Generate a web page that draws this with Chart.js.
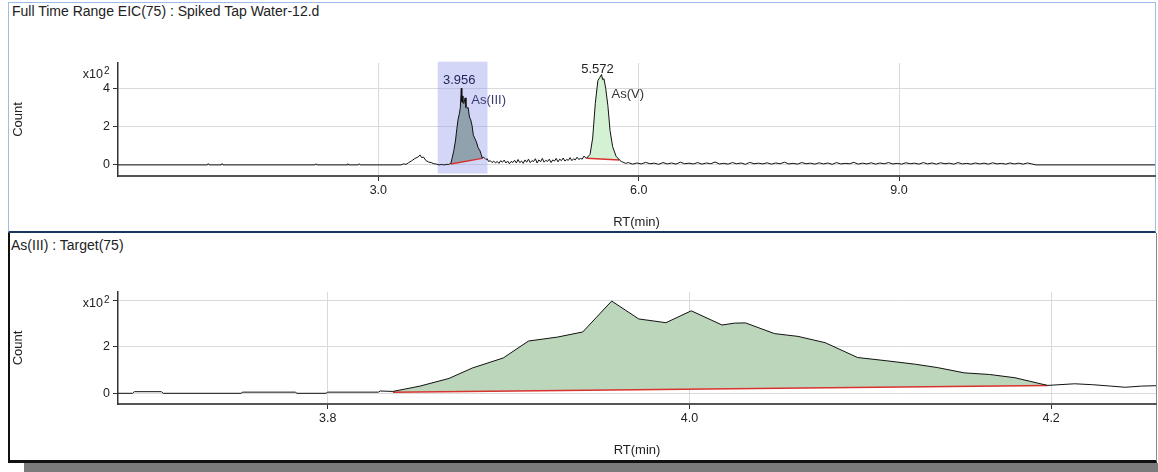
<!DOCTYPE html>
<html>
<head>
<meta charset="utf-8">
<title>EIC(75) Spiked Tap Water-12</title>
<script src="https://cdn.jsdelivr.net/npm/chart.js@4.4.1/dist/chart.umd.min.js"></script>
<style>
  html, body { margin: 0; padding: 0; background: #fff; }
  body { width: 1158px; height: 472px; position: relative; overflow: hidden; font-family: "Liberation Sans", Arial, sans-serif; }
  .panel { position: absolute; box-sizing: border-box; background: #fff; }
  #topPanel { left: 8px; top: 2px; width: 1148px; height: 231px; border: 1px solid #9dbde6; border-bottom: 2px solid #17375e; }
  #botPanel { left: 8px; top: 233px; width: 1149px; height: 230px; border-left: 2px solid #111; border-right: 1px solid #8a8a8a; border-bottom: 3px solid #111; }
  #shadow { position: absolute; left: 24px; top: 463px; width: 1134px; height: 9px; background: #7b7b7b; }
  .ptitle { position: absolute; font-size: 14px; color: #222; white-space: nowrap; }
  canvas { position: absolute; left: 0; }
</style>
</head>
<body>
<div class="panel" id="topPanel"></div>
<div class="panel" id="botPanel"></div>
<div id="shadow"></div>
<div class="ptitle" style="left:12px; top:3px;">Full Time Range EIC(75) : Spiked Tap Water-12.d</div>
<div class="ptitle" style="left:11px; top:237px;">As(III) : Target(75)</div>
<canvas id="topChart" width="1158" height="232" style="top:0px"></canvas>
<canvas id="botChart" width="1158" height="226" style="top:234px"></canvas>
<script>
const FONT = '"Liberation Sans", Arial, sans-serif';

// ---- upper plot: full time range EIC(75), counts in units of 10^2 ----
const topTrace = [
  [0, 0], [1.03, 0], [1.04, 0.07], [1.05, 0], [1.19, 0], [1.2, 0.07], [1.21, 0],
  [2.27, 0], [2.28, 0.06], [2.29, 0], [2.64, 0], [2.65, 0.06], [2.66, 0],
  [2.77, 0], [2.78, 0.06], [2.79, 0], [3.26, 0],
  [3.29, 0.05], [3.32, 0.03], [3.35, 0.12], [3.38, 0.2], [3.42, 0.33], [3.46, 0.42],
  [3.48, 0.52], [3.5, 0.38], [3.52, 0.41], [3.55, 0.22], [3.58, 0.15], [3.61, 0.12],
  [3.64, 0.06], [3.67, 0.04], [3.7, 0], [3.73, 0.02], [3.76, 0], [3.79, 0.03], [3.81, 0.02],
  // As(III)
  [3.836, 0.08], [3.85, 0.35], [3.87, 0.75], [3.89, 1.3], [3.905, 1.9], [3.92, 2.4],
  [3.935, 2.7], [3.945, 3.0], [3.956, 4.0], [3.962, 3.3], [3.968, 3.6], [3.975, 3.25],
  [3.985, 3.2], [4.0, 3.5], [4.01, 3.0], [4.02, 2.95], [4.035, 3.0], [4.05, 2.5],
  [4.065, 2.35], [4.08, 2.05], [4.095, 1.55], [4.11, 1.4], [4.13, 1.2], [4.15, 0.9],
  [4.17, 0.75], [4.185, 0.55], [4.198, 0.34], [4.21, 0.42], [4.225, 0.35], [4.24, 0.28],
  [4.255, 0.32], [4.27, 0.18], [4.29, 0.22], [4.31, 0.12], [4.33, 0.2], [4.35, 0.1],
  [4.37, 0.18], [4.39, 0.08], [4.41, 0.22], [4.43, 0.14], [4.45, 0.25], [4.47, 0.1],
  [4.49, 0.2], [4.51, 0.06], [4.53, 0.18], [4.55, 0.12], [4.57, 0.24], [4.59, 0.1],
  [4.61, 0.28], [4.63, 0.12], [4.65, 0.2], [4.67, 0.08], [4.69, 0.26], [4.71, 0.14],
  [4.73, 0.3], [4.75, 0.12], [4.77, 0.22], [4.79, 0.18], [4.81, 0.32], [4.83, 0.1],
  [4.85, 0.26], [4.87, 0.16], [4.89, 0.34], [4.91, 0.14], [4.93, 0.24], [4.95, 0.18],
  [4.97, 0.3], [4.99, 0.12], [5.01, 0.26], [5.03, 0.2], [5.05, 0.34], [5.07, 0.16],
  [5.09, 0.3], [5.11, 0.22], [5.13, 0.36], [5.15, 0.2], [5.17, 0.28], [5.19, 0.24],
  [5.21, 0.38], [5.23, 0.22], [5.25, 0.32], [5.27, 0.26], [5.29, 0.4], [5.31, 0.28],
  [5.33, 0.34], [5.35, 0.3], [5.37, 0.46], [5.39, 0.36],
  // As(V)
  [5.4, 0.35], [5.44, 0.55], [5.47, 1.4], [5.5, 3.2], [5.53, 4.4], [5.55, 4.55],
  [5.572, 4.72], [5.585, 4.45], [5.6, 4.5], [5.62, 4.0], [5.645, 3.1], [5.67, 1.8],
  [5.7, 0.95], [5.74, 0.45], [5.78, 0.25], [5.8, 0.18], [5.82, 0.14], [5.85, 0.08],
  [5.88, 0.12], [5.93, 0.04], [5.98, 0.1], [6.03, 0.05], [6.08, 0.13], [6.13, 0.06],
  [6.18, 0.09], [6.23, 0.03], [6.28, 0.12], [6.33, 0.05], [6.38, 0.1], [6.43, 0.04],
  [6.48, 0.14], [6.53, 0.06], [6.58, 0.09], [6.63, 0.05], [6.68, 0.12], [6.73, 0.04],
  [6.78, 0.1], [6.83, 0.06], [6.88, 0.15], [6.93, 0.05], [6.98, 0.08], [7.03, 0.04],
  [7.08, 0.12], [7.13, 0.06], [7.18, 0.1], [7.23, 0.03], [7.28, 0.13], [7.33, 0.06],
  [7.38, 0.09], [7.43, 0.05], [7.48, 0.11], [7.53, 0.04], [7.58, 0.1], [7.63, 0.06],
  [7.68, 0.14], [7.73, 0.05], [7.78, 0.08], [7.83, 0.04], [7.88, 0.12], [7.93, 0.06],
  [7.98, 0.09], [8.03, 0.04], [8.08, 0.11], [8.13, 0.05], [8.18, 0.1], [8.23, 0.03],
  [8.28, 0.12], [8.33, 0.05], [8.38, 0.08], [8.43, 0.06], [8.48, 0.13], [8.53, 0.04],
  [8.58, 0.09], [8.63, 0.05], [8.68, 0.11], [8.73, 0.04], [8.78, 0.1], [8.83, 0.06],
  [8.88, 0.12], [8.93, 0.05], [8.98, 0.08], [9.03, 0.04], [9.08, 0.11], [9.13, 0.06],
  [9.18, 0.09], [9.23, 0.04], [9.28, 0.12], [9.33, 0.05], [9.38, 0.1], [9.43, 0.04],
  [9.48, 0.11], [9.53, 0.06], [9.58, 0.09], [9.63, 0.04], [9.68, 0.12], [9.73, 0.05],
  [9.78, 0.08], [9.83, 0.04], [9.88, 0.1], [9.93, 0.05], [9.98, 0.09], [10.03, 0.04],
  [10.08, 0.11], [10.13, 0.05], [10.18, 0.08], [10.23, 0.04], [10.28, 0.1], [10.33, 0.05],
  [10.38, 0.09], [10.43, 0.04], [10.48, 0.1], [10.53, 0.05], [10.58, 0], [11.95, 0]
];
const topXRange = [0, 11.95];
const topYRange = [-0.58, 5.32];
const topXTicks = [3.0, 6.0, 9.0];
const topYTicks = [0, 2, 4];
const asIIIBaseline = [[3.836, 0.05], [4.198, 0.34]];
const asVBaseline = [[5.4, 0.35], [5.78, 0.25]];
const zoomWindow = [3.684, 4.258];      // RT range shown in the lower plot
const zoomWindowCounts = [-0.45, 5.39];
const peakLabels = [
  { rt: 3.956, count: 4.0, text: '3.956' },
  { rt: 3.956, count: 4.0, text: 'As(III)' },
  { rt: 5.572, count: 4.72, text: '5.572' },
  { rt: 5.572, count: 4.72, text: 'As(V)' }
];

// ---- lower plot: As(III) target(75) ----
const botTrace = [
  [3.684, 0], [3.692, 0], [3.693, 0.07], [3.708, 0.07], [3.709, 0], [3.752, 0],
  [3.753, 0.05], [3.782, 0.05], [3.783, 0], [3.799, 0], [3.8, 0.05], [3.828, 0.05],
  [3.829, 0.1], [3.836, 0.08], [3.851, 0.31], [3.867, 0.64], [3.88, 1.09], [3.897, 1.52],
  [3.911, 2.25], [3.927, 2.42], [3.941, 2.64], [3.957, 3.97], [3.972, 3.2], [3.987, 3.04],
  [4.001, 3.55], [4.018, 2.94], [4.025, 3.02], [4.031, 3.03], [4.047, 2.57], [4.06, 2.45],
  [4.075, 2.18], [4.093, 1.54], [4.109, 1.4], [4.125, 1.25], [4.137, 1.11], [4.152, 0.88],
  [4.166, 0.81], [4.18, 0.67], [4.198, 0.34], [4.213, 0.41], [4.223, 0.37], [4.233, 0.31],
  [4.241, 0.26], [4.25, 0.31], [4.259, 0.33]
];
const botXRange = [3.684, 4.258];
const botYRange = [-0.46, 4.36];
const botXTicks = [3.8, 4.0, 4.2];
const botYTicks = [0, 2, 4];
const botBaseline = [[3.836, 0.05], [4.198, 0.34]];

// label placement (px offsets from the apex)
const peakLabelStyle = [
  { dx: -2, dy: -8, align: 'center', color: '#1c2457' },
  { dx: 10, dy: 12, align: 'left', color: '#3a3a72' },
  { dx: -4, dy: -5, align: 'center', color: '#222' },
  { dx: 10, dy: 20, align: 'left', color: '#333' }
];

const toPts = (arr) => arr.map(([x, y]) => ({ x, y }));
const within = (arr, lo, hi) => arr.filter(([x]) => x >= lo && x <= hi);

const lineDs = (data, color, width) => ({
  data: toPts(data), borderColor: color, borderWidth: width,
  pointRadius: 0, tension: 0, fill: false
});
const fillDs = (data, target, color) => ({
  data: toPts(data), borderWidth: 0, borderColor: 'rgba(0,0,0,0)',
  backgroundColor: color, pointRadius: 0, tension: 0, fill: target
});

// highlight band for the zoomed RT window
const bandPlugin = {
  id: 'band',
  beforeDatasetsDraw(chart, args, opts) {
    if (!opts.x) return;
    const { ctx, scales: { x, y } } = chart;
    const x0 = x.getPixelForValue(opts.x[0]), x1 = x.getPixelForValue(opts.x[1]);
    const y0 = y.getPixelForValue(opts.y[1]), y1 = y.getPixelForValue(opts.y[0]);
    ctx.save();
    ctx.fillStyle = opts.color;
    ctx.fillRect(x0, y0, x1 - x0, y1 - y0);
    ctx.restore();
  }
};

const labelPlugin = {
  id: 'peakText',
  afterDatasetsDraw(chart, args, opts) {
    if (!opts.labels) return;
    const { ctx, scales: { x, y } } = chart;
    ctx.save();
    ctx.font = '13px ' + FONT;
    ctx.textBaseline = 'middle';
    opts.labels.forEach((l, i) => {
      const st = opts.styles[i];
      ctx.fillStyle = st.color;
      ctx.textAlign = st.align;
      ctx.fillText(l.text, x.getPixelForValue(l.rt) + st.dx, y.getPixelForValue(l.count) + st.dy);
    });
    ctx.restore();
  }
};

// "x10^2" multiplier beside the top of the count axis
const exponentPlugin = {
  id: 'exponent',
  afterDraw(chart) {
    const { ctx, chartArea } = chart;
    const yy = chartArea.top + 12;
    ctx.save();
    ctx.fillStyle = '#222';
    ctx.textBaseline = 'middle';
    ctx.textAlign = 'right';
    ctx.font = '12.5px ' + FONT;
    ctx.fillText('x10', 103, yy);
    ctx.textAlign = 'left';
    ctx.font = '10px ' + FONT;
    ctx.fillText('2', 104, yy - 4);
    ctx.restore();
  }
};

function makeChart(id, c) {
  return new Chart(document.getElementById(id), {
    type: 'line',
    data: { datasets: c.datasets },
    options: {
      responsive: false,
      animation: false,
      events: [],
      layout: { padding: c.padding },
      plugins: {
        legend: { display: false },
        tooltip: { enabled: false },
        band: c.band || {},
        peakText: c.peakText || {}
      },
      scales: {
        x: {
          type: 'linear', min: c.xRange[0], max: c.xRange[1],
          afterBuildTicks: (s) => { s.ticks = c.xTicks.map((v) => ({ value: v })); },
          afterFit: (s) => { s.height = c.xHeight; },
          ticks: { color: '#222', font: { family: FONT, size: 12.5 }, padding: 2, maxRotation: 0,
                   callback: (v) => v.toFixed(1) },
          grid: { color: '#dadada', tickColor: '#333', tickLength: 5, lineWidth: 1 },
          border: { color: '#555', width: 2 },
          title: { display: true, text: 'RT(min)', color: '#222', font: { family: FONT, size: 13 },
                   padding: { top: 0, bottom: 0 } }
        },
        y: {
          type: 'linear', min: c.yRange[0], max: c.yRange[1],
          afterBuildTicks: (s) => { s.ticks = c.yTicks.map((v) => ({ value: v })); },
          afterFit: (s) => { s.width = 108; },
          ticks: { color: '#222', font: { family: FONT, size: 12.5 }, padding: 3,
                   callback: (v) => (c.hideTopTick && v === c.yTicks[c.yTicks.length - 1]) ? '' : String(v) },
          grid: { color: '#dadada', tickColor: '#333', tickLength: 5, lineWidth: 1 },
          border: { color: '#333', width: 1.5 },
          title: { display: true, text: 'Count', color: '#222', font: { family: FONT, size: 13 },
                   padding: { top: 1, bottom: 0 } }
        }
      }
    },
    plugins: [bandPlugin, labelPlugin, exponentPlugin]
  });
}

makeChart('topChart', {
  datasets: [
    lineDs(topTrace, '#111', 1),
    lineDs(asIIIBaseline, '#d8322e', 1.5),
    lineDs(asVBaseline, '#d8322e', 1.5),
    fillDs(within(topTrace, asIIIBaseline[0][0], asIIIBaseline[1][0]), 1, '#8fa2ae'),
    fillDs(within(topTrace, asVBaseline[0][0], asVBaseline[1][0]), 2, '#d4f1d3')
  ],
  padding: { left: 10, top: 63, right: 3, bottom: 2 },
  xHeight: 54,
  xRange: topXRange, yRange: topYRange, xTicks: topXTicks, yTicks: topYTicks,
  band: { x: zoomWindow, y: zoomWindowCounts, color: 'rgba(150,158,235,0.42)' },
  peakText: { labels: peakLabels, styles: peakLabelStyle }
});

makeChart('botChart', {
  datasets: [
    lineDs(botTrace, '#111', 1),
    lineDs(botBaseline, '#d8322e', 1.5),
    fillDs(within(botTrace, botBaseline[0][0], botBaseline[1][0]), 1, '#bcd6bb')
  ],
  padding: { left: 10, top: 58, right: 2, bottom: 2 },
  xHeight: 54,
  xRange: botXRange, yRange: botYRange, xTicks: botXTicks, yTicks: botYTicks,
  hideTopTick: true
});
</script>
</body>
</html>
